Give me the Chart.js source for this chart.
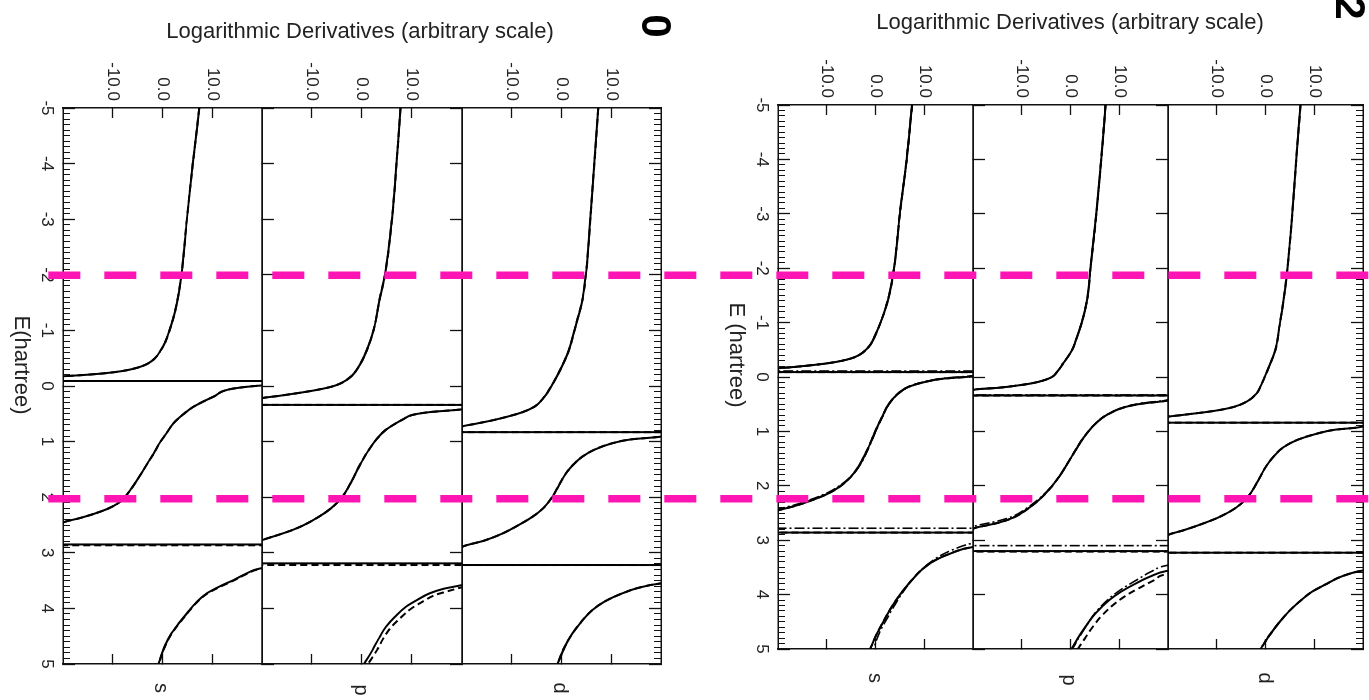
<!DOCTYPE html>
<html><head><meta charset="utf-8">
<script src="https://cdn.jsdelivr.net/npm/chart.js@4.4.1/dist/chart.umd.min.js"></script>
<style>
html,body{margin:0;padding:0;background:#fff;width:1369px;height:700px;overflow:hidden;font-family:"Liberation Sans",Arial,Helvetica,sans-serif;}
#fig{position:absolute;left:0;top:0;width:700px;height:1369px;transform-origin:0 0;transform:translate(1369px,0) rotate(90deg);}
#fig canvas{position:absolute;left:0;}
.t{position:absolute;transform:translate(-50%,-50%);white-space:nowrap;color:#222;line-height:1;}
#pink{position:absolute;left:0;top:0;z-index:20;}
</style></head>
<body>
<div id="fig"></div>
<canvas id="pink" width="1369" height="700"></canvas>
<script>
// ---------------- data ----------------
const eTicks = [-5,-4,-3,-2,-1,0,1,2,3,4,5];
const lTicks = [-10,0,10];
const panelNames = ['s','p','d'];
const groupNames = ['0','2'];
const titleText = 'Logarithmic Derivatives (arbitrary scale)';
const eTitles = ['E(hartree)','E (hartree)'];
const pinkLevels = [-1.99, 2.03];
const pinkSpan = [0.0353, 1.0];

// group "0" (left block) : [E, log-derivative]
const g0_s_solid = [[-5,7.4],[-4,6.1],[-3,4.9],[-2,3.8],[-1.5,2.9],[-1.2,2.1],[-1.0,1.4],[-0.8,0.6],[-0.65,-0.3],[-0.5,-1.5],[-0.4,-3.0],[-0.33,-5.0],[-0.27,-8.0],[-0.23,-11.5],[-0.2,-15.5],[-0.18,-19],[-0.16,-23],[-0.13,-32],[-0.092,-300],
 [-0.088,300],[-0.04,35],[-0.01,20],[0.05,14],[0.19,10.3],[0.37,6.3],[0.5,4.3],[0.67,2.2],[0.85,0.8],[1.0,-0.4],[1.2,-1.7],[1.39,-3.0],[1.55,-4.1],[1.69,-5.1],[1.85,-6.3],[2.0,-7.6],[2.1,-8.8],[2.2,-10.8],[2.3,-13.8],[2.38,-16.8],[2.45,-19.8],[2.52,-24],[2.849,-300],
 [2.851,300],[3.15,35],[3.22,25],[3.28,19.7],[3.38,16.7],[3.49,14.3],[3.6,11.6],[3.73,8.9],[3.9,6.7],[4.09,4.9],[4.3,3.0],[4.45,1.8],[4.65,0.6],[4.81,-0.1],[5,-0.8]];
const g0_s_dashed = [[-5,7.4],[-4,6.1],[-3,4.9],[-2,3.8],[-1.5,2.9],[-1.2,2.1],[-1.0,1.4],[-0.8,0.6],[-0.65,-0.3],[-0.5,-1.5],[-0.4,-3.0],[-0.33,-5.0],[-0.27,-8.0],[-0.23,-11.5],[-0.2,-15.5],[-0.18,-19],[-0.16,-23],[-0.13,-32],[-0.092,-300],
 [-0.088,300],[-0.04,35],[-0.01,20],[0.05,14],[0.19,10.3],[0.37,6.3],[0.5,4.3],[0.67,2.2],[0.85,0.8],[1.0,-0.4],[1.2,-1.7],[1.39,-3.0],[1.55,-4.1],[1.69,-5.1],[1.85,-6.3],[2.0,-7.6],[2.1,-8.8],[2.2,-10.8],[2.3,-13.8],[2.38,-16.8],[2.45,-19.8],[2.52,-24],[2.864,-300],
 [2.866,300],[3.16,35],[3.23,25],[3.29,19.7],[3.39,16.7],[3.5,14.3],[3.61,11.6],[3.74,8.9],[3.91,6.7],[4.1,4.9],[4.31,3.0],[4.46,1.8],[4.66,0.6],[4.82,-0.1],[5,-0.7]];
const g0_p_solid = [[-5,7.7],[-4,6.9],[-3,6.0],[-2,4.6],[-1.55,3.5],[-1.2,2.8],[-1.0,2.3],[-0.75,1.4],[-0.47,0.1],[-0.3,-1.0],[-0.17,-2.2],[-0.05,-4.2],[0.01,-6.0],[0.07,-9.0],[0.13,-13],[0.18,-16.8],[0.22,-20],[0.27,-27],[0.339,-300],
 [0.341,300],[0.39,30],[0.42,20],[0.47,13.5],[0.52,10.1],[0.6,8.2],[0.67,6.8],[0.8,4.6],[0.97,2.8],[1.2,1.0],[1.45,-0.6],[1.7,-2.0],[1.99,-3.9],[2.2,-6.2],[2.35,-8.6],[2.5,-11.6],[2.59,-13.9],[2.68,-16.8],[2.77,-19.9],[2.85,-26],[3.189,-300],
 [3.191,300],[3.5,28],[3.58,20],[3.65,16.2],[3.73,13.5],[3.85,11.0],[3.97,8.8],[4.15,6.6],[4.33,4.8],[4.55,3.3],[4.75,2.1],[5,0.4]];
const g0_p_dashed = [[-5,7.7],[-4,6.9],[-3,6.0],[-2,4.6],[-1.55,3.5],[-1.2,2.8],[-1.0,2.3],[-0.75,1.4],[-0.47,0.1],[-0.3,-1.0],[-0.17,-2.2],[-0.05,-4.2],[0.01,-6.0],[0.07,-9.0],[0.13,-13],[0.18,-16.8],[0.22,-20],[0.27,-27],[0.339,-300],
 [0.341,300],[0.39,30],[0.42,20],[0.47,13.5],[0.52,10.1],[0.6,8.2],[0.67,6.8],[0.8,4.6],[0.97,2.8],[1.2,1.0],[1.45,-0.6],[1.7,-2.0],[1.99,-3.9],[2.2,-6.2],[2.35,-8.6],[2.5,-11.6],[2.59,-13.9],[2.68,-16.8],[2.77,-19.9],[2.85,-26],[3.219,-300],
 [3.221,300],[3.54,28],[3.62,20],[3.69,17.2],[3.76,14.6],[3.88,12.1],[4.0,9.9],[4.17,7.7],[4.34,5.8],[4.55,4.2],[4.75,3.0],[5,1.2]];
const g0_d_solid = [[-5,7.4],[-4,6.6],[-3,5.8],[-2,4.9],[-1.55,4.2],[-1.1,2.9],[-0.65,1.5],[-0.3,-0.2],[-0.05,-1.7],[0.2,-3.5],[0.37,-5.4],[0.47,-7.8],[0.55,-10.8],[0.62,-14.0],[0.68,-17.3],[0.73,-20],[0.77,-26],[0.829,-300],
 [0.831,300],[0.88,28],[0.91,20],[0.96,14],[1.03,10.2],[1.15,6.5],[1.27,4.2],[1.42,2.3],[1.57,0.9],[1.8,-0.6],[1.99,-1.8],[2.2,-3.7],[2.35,-5.8],[2.5,-8.6],[2.65,-11.8],[2.78,-15.5],[2.89,-19.9],[2.97,-26],[3.219,-300],
 [3.221,300],[3.5,28],[3.55,20],[3.63,15.5],[3.73,12.2],[3.87,8.8],[4.03,6.2],[4.25,3.9],[4.45,2.2],[4.7,0.6],[5,-0.8]];

// group "2" (right block)
const g2_s_solid = [[-5,7.5],[-4,6.4],[-3,5.0],[-2,3.8],[-1.45,2.65],[-1.04,1.2],[-0.8,0.1],[-0.6,-1.0],[-0.45,-2.6],[-0.36,-4.4],[-0.3,-6.8],[-0.25,-10.0],[-0.21,-13.8],[-0.18,-17.2],[-0.16,-19.9],[-0.13,-27],[-0.091,-300],
 [-0.089,300],[-0.04,30],[-0.01,19.7],[0.03,14],[0.09,10.2],[0.18,6.8],[0.3,4.7],[0.5,2.7],[0.74,1.3],[0.95,0.2],[1.16,-0.8],[1.4,-2.0],[1.65,-3.5],[1.85,-5.2],[2.02,-7.4],[2.15,-9.9],[2.27,-13.2],[2.37,-16.5],[2.45,-19.9],[2.52,-26],[2.859,-300],
 [2.861,300],[3.08,28],[3.13,19.7],[3.24,15.5],[3.37,12.2],[3.55,9.4],[3.74,7.4],[3.98,5.2],[4.23,3.3],[4.48,1.7],[4.72,0.3],[5,-1.1]];
const g2_s_dashdot = [[-5,7.5],[-4,6.4],[-3,5.0],[-2,3.8],[-1.45,2.65],[-1.04,1.2],[-0.8,0.1],[-0.6,-1.0],[-0.45,-2.6],[-0.36,-4.4],[-0.3,-6.8],[-0.25,-10.0],[-0.21,-13.8],[-0.18,-17.2],[-0.16,-19.9],[-0.14,-27],[-0.111,-300],
 [-0.109,300],[-0.05,30],[-0.02,19.7],[0.02,14.2],[0.08,10.4],[0.17,7.0],[0.3,4.8],[0.5,2.8],[0.74,1.4],[0.95,0.3],[1.16,-0.7],[1.4,-1.9],[1.65,-3.4],[1.84,-5.2],[2.0,-7.4],[2.13,-9.9],[2.25,-13.2],[2.35,-16.5],[2.43,-19.9],[2.5,-26],[2.779,-300],
 [2.781,300],[3.0,28],[3.06,19.7],[3.17,16.0],[3.3,13.0],[3.48,10.2],[3.68,8.0],[3.93,5.8],[4.2,3.9],[4.45,2.3],[4.7,0.8],[5,-0.4]];
const g2_p_solid = [[-5,7.2],[-4,6.3],[-3,5.3],[-2,4.1],[-1.41,3.4],[-1.0,2.3],[-0.7,1.2],[-0.49,0.3],[-0.25,-1.5],[-0.1,-2.7],[0.0,-3.8],[0.07,-5.8],[0.12,-8.2],[0.16,-11.2],[0.2,-15],[0.23,-19.6],[0.27,-27],[0.339,-300],
 [0.341,300],[0.39,28],[0.43,20],[0.49,14.6],[0.55,11.3],[0.7,7.4],[0.86,5.1],[1.1,2.8],[1.35,1.0],[1.6,-0.7],[1.84,-2.4],[2.05,-4.2],[2.27,-6.6],[2.45,-9.2],[2.58,-11.6],[2.68,-14.8],[2.76,-19.0],[2.83,-26],[3.199,-300],
 [3.201,300],[3.5,28],[3.56,20],[3.67,16.3],[3.8,13.3],[3.95,10.3],[4.11,7.8],[4.35,5.1],[4.6,3.0],[4.8,1.5],[5,0.2]];
const g2_p_dashed = [[-5,7.2],[-4,6.3],[-3,5.3],[-2,4.1],[-1.41,3.4],[-1.0,2.3],[-0.7,1.2],[-0.49,0.3],[-0.25,-1.5],[-0.1,-2.7],[0.0,-3.8],[0.07,-5.8],[0.12,-8.2],[0.16,-11.2],[0.2,-15],[0.23,-19.6],[0.27,-27],[0.339,-300],
 [0.341,300],[0.39,28],[0.43,20],[0.49,14.6],[0.55,11.3],[0.7,7.4],[0.86,5.1],[1.1,2.8],[1.35,1.0],[1.6,-0.7],[1.84,-2.4],[2.05,-4.2],[2.27,-6.6],[2.45,-9.2],[2.58,-11.6],[2.68,-14.8],[2.76,-19.0],[2.83,-26],[3.209,-300],
 [3.211,300],[3.56,28],[3.62,20],[3.73,17.3],[3.86,14.5],[4.0,11.7],[4.15,9.3],[4.38,6.5],[4.6,4.5],[4.8,3.0],[5,1.5]];
const g2_p_dashdot = [[-5,7.2],[-4,6.3],[-3,5.3],[-2,4.1],[-1.41,3.4],[-1.0,2.3],[-0.7,1.2],[-0.49,0.3],[-0.25,-1.5],[-0.1,-2.7],[0.0,-3.8],[0.07,-5.8],[0.12,-8.2],[0.16,-11.2],[0.2,-15],[0.23,-19.6],[0.27,-27],[0.329,-300],
 [0.331,300],[0.38,28],[0.42,20],[0.48,14.8],[0.54,11.5],[0.69,7.5],[0.85,5.2],[1.09,2.9],[1.34,1.1],[1.59,-0.6],[1.83,-2.3],[2.04,-4.2],[2.25,-6.6],[2.43,-9.3],[2.56,-11.8],[2.65,-15.0],[2.73,-19.2],[2.8,-26],[3.099,-300],
 [3.101,300],[3.4,28],[3.46,20],[3.58,16.5],[3.72,13.8],[3.88,10.8],[4.05,8.2],[4.3,5.4],[4.55,3.4],[4.78,1.8],[5,0.4]];
const g2_d_solid = [[-5,7.2],[-4,6.3],[-3,5.5],[-2,4.5],[-1.41,3.7],[-0.95,2.9],[-0.49,2.0],[-0.1,0.3],[0.15,-0.9],[0.3,-1.8],[0.45,-3.8],[0.55,-6.5],[0.6,-9.0],[0.64,-11.8],[0.67,-14.5],[0.7,-17.2],[0.73,-19.9],[0.77,-27],[0.839,-300],
 [0.841,300],[0.88,28],[0.92,19.4],[0.97,14.2],[1.04,10.6],[1.15,6.7],[1.29,3.7],[1.47,1.6],[1.66,0.0],[1.95,-1.8],[2.21,-3.7],[2.4,-6.0],[2.58,-9.6],[2.72,-13.6],[2.82,-16.9],[2.9,-19.9],[2.98,-26],[3.229,-300],
 [3.231,300],[3.5,28],[3.56,19.8],[3.67,15.5],[3.8,12.6],[3.95,9.5],[4.11,7.2],[4.3,4.9],[4.48,3.1],[4.75,0.8],[5,-1.0]];

// ---------------- layout (original, un-rotated frame: u across, v down) ----------------
const FONT = "'Liberation Sans', Arial, Helvetica, sans-serif";
const groupsLayout = [
  {id:'g0', uTop:108, uBot:664, bands:{d:[708,907], p:[907,1107], s:[1107,1306]},
   title:{x:360,y:31}, eTitle:{u:365,v:1347}, big:{u:26,v:713},
   labels:{s:{u:688,v:1207}, p:{u:690,v:1007}, d:{u:688,v:808}}},
  {id:'g2', uTop:105, uBot:649, bands:{d:[6,201], p:[201,396], s:[396,591]},
   title:{x:1070,y:22}, eTitle:{u:355,v:632}, big:{u:8,v:19},
   labels:{s:{u:678,v:493}, p:{u:680,v:299}, d:{u:678,v:103}}}
];
const seriesByPanel = {
  g0:{ s:[[g0_s_solid,'solid'],[g0_s_dashed,'dashed']],
       p:[[g0_p_solid,'solid'],[g0_p_dashed,'dashed']],
       d:[[g0_d_solid,'solid'],[g0_d_solid,'dashed']] },
  g2:{ s:[[g2_s_solid,'solid'],[g2_s_solid,'dashed'],[g2_s_dashdot,'dashdot']],
       p:[[g2_p_solid,'solid'],[g2_p_dashed,'dashed'],[g2_p_dashdot,'dashdot']],
       d:[[g2_d_solid,'solid'],[g2_d_solid,'dashed']] }
};
const STYLES = { solid:{dash:[],w:2}, dashed:{dash:[7,4],w:2}, dashdot:{dash:[10,3,2,3],w:1.6} };
const eMinor = []; for (let k=-50;k<=50;k++) eMinor.push(k/10);

Chart.defaults.font.family = FONT;
const fig = document.getElementById('fig');

function addText(parent, txt, x, y, size, extra){
  const d = document.createElement('div');
  d.className = 't'; d.textContent = txt;
  d.style.left = x+'px'; d.style.top = y+'px'; d.style.fontSize = size+'px';
  if (extra) Object.assign(d.style, extra);
  parent.appendChild(d);
}
function setTicks(arr){ return s => { s.ticks = arr.map(v => ({value:v})); }; }
function fixH(h){ return s => { s.height = h; s.paddingLeft = 0; s.paddingRight = 0; s.paddingTop = 0; s.paddingBottom = 0; }; }
function fixW(w){ return s => { s.width = w; s.paddingLeft = 0; s.paddingRight = 0; s.paddingTop = 0; s.paddingBottom = 0; }; }

groupsLayout.forEach((g, gi) => {
  panelNames.forEach(pn => {
    const [vTop, vBot] = g.bands[pn];
    const isS = pn === 's', isD = pn === 'd';
    const TOPM = 40, BOTM = isS ? 60 : 40;
    const H = (vBot - vTop) + TOPM + BOTM;
    const cv = document.createElement('canvas');
    cv.width = 700; cv.height = H;
    cv.style.top = (vTop - TOPM) + 'px';
    cv.style.width = '700px'; cv.style.height = H + 'px';
    fig.appendChild(cv);
    const leftW = g.uTop, rightW = 700 - g.uBot;
    const border = {display:true, color:'#111', width:1.5};
    const tickFont = {family:FONT, size:17};
    const scales = {
      x:{type:'linear', position:'bottom', min:-5, max:5, weight:10,
         afterBuildTicks:setTicks(eTicks),
         ticks:{display:isS, autoSkip:false, maxRotation:0, minRotation:0, padding:18, color:'#222', font:tickFont, callback:v=>String(v)},
         grid:{drawOnChartArea:false, drawTicks:!isD, tickLength:-12, tickWidth:1.3, tickColor:'#111'},
         border, afterFit:fixH(BOTM)},
      xt:{type:'linear', position:'top', min:-5, max:5, weight:10,
         afterBuildTicks:setTicks(eTicks),
         ticks:{display:false},
         grid:{drawOnChartArea:false, drawTicks:!isS, tickLength:-12, tickWidth:1.3, tickColor:'#111'},
         border, afterFit:fixH(TOPM)},
      y:{type:'linear', position:'left', min:-20, max:20, weight:10,
         afterBuildTicks:setTicks(lTicks),
         ticks:{padding:17, color:'#222', font:tickFont, callback:v=>Number(v).toFixed(1)},
         grid:{drawOnChartArea:false, tickLength:-10, tickWidth:1.3, tickColor:'#111'},
         border, afterFit:fixW(leftW)},
      yr:{type:'linear', position:'right', min:-20, max:20, weight:10,
         afterBuildTicks:setTicks(lTicks),
         ticks:{display:false},
         grid:{drawOnChartArea:false, tickLength:-10, tickWidth:1.3, tickColor:'#111'},
         border, afterFit:fixW(rightW)}
    };
    if (isS) scales.xm = {type:'linear', position:'bottom', min:-5, max:5, weight:0,
         afterBuildTicks:setTicks(eMinor), ticks:{display:false},
         grid:{drawOnChartArea:false, tickLength:-7, tickWidth:1, tickColor:'#111'},
         border:{display:false}, afterFit:fixH(0)};
    if (isD) scales.xtm = {type:'linear', position:'top', min:-5, max:5, weight:0,
         afterBuildTicks:setTicks(eMinor), ticks:{display:false},
         grid:{drawOnChartArea:false, tickLength:-7, tickWidth:1, tickColor:'#111'},
         border:{display:false}, afterFit:fixH(0)};
    const datasets = seriesByPanel[g.id][pn].map(([arr, st]) => ({
      data: arr, showLine:true, pointRadius:0, borderColor:'#000', backgroundColor:'#000',
      borderWidth:STYLES[st].w, borderDash:STYLES[st].dash, cubicInterpolationMode:'monotone',
      xAxisID:'x', yAxisID:'y'
    }));
    new Chart(cv.getContext('2d'), {
      type:'scatter', data:{datasets},
      options:{responsive:false, animation:false, devicePixelRatio:1, events:[],
        layout:{padding:0, autoPadding:false},
        plugins:{legend:{display:false}, tooltip:{enabled:false}},
        scales}
    });
    const lp = g.labels[pn];
    addText(fig, pn, lp.u, lp.v, 20);
  });
  addText(fig, eTitles[gi], g.eTitle.u, g.eTitle.v, 22);
  addText(fig, groupNames[gi], g.big.u, g.big.v, 42, {fontWeight:'bold', color:'#000'});
  addText(document.body, titleText, g.title.x, g.title.y, 22);
});

// pink dashed reference lines (overlay, page frame)
new Chart(document.getElementById('pink').getContext('2d'), {
  type:'scatter',
  data:{datasets: pinkLevels.map(e => ({
    data:[[pinkSpan[0], e],[pinkSpan[1], e]], showLine:true, pointRadius:0,
    borderColor:'#ff14b4', borderWidth:7.5, borderDash:[32,24], borderCapStyle:'butt', clip:false
  }))},
  options:{responsive:false, animation:false, devicePixelRatio:1, events:[],
    layout:{padding:{top:108,bottom:36,left:0,right:0}, autoPadding:false},
    plugins:{legend:{display:false}, tooltip:{enabled:false}},
    scales:{x:{display:false,min:0,max:1}, y:{display:false,min:-5,max:5,reverse:true}}}
});
</script>
</body></html>
